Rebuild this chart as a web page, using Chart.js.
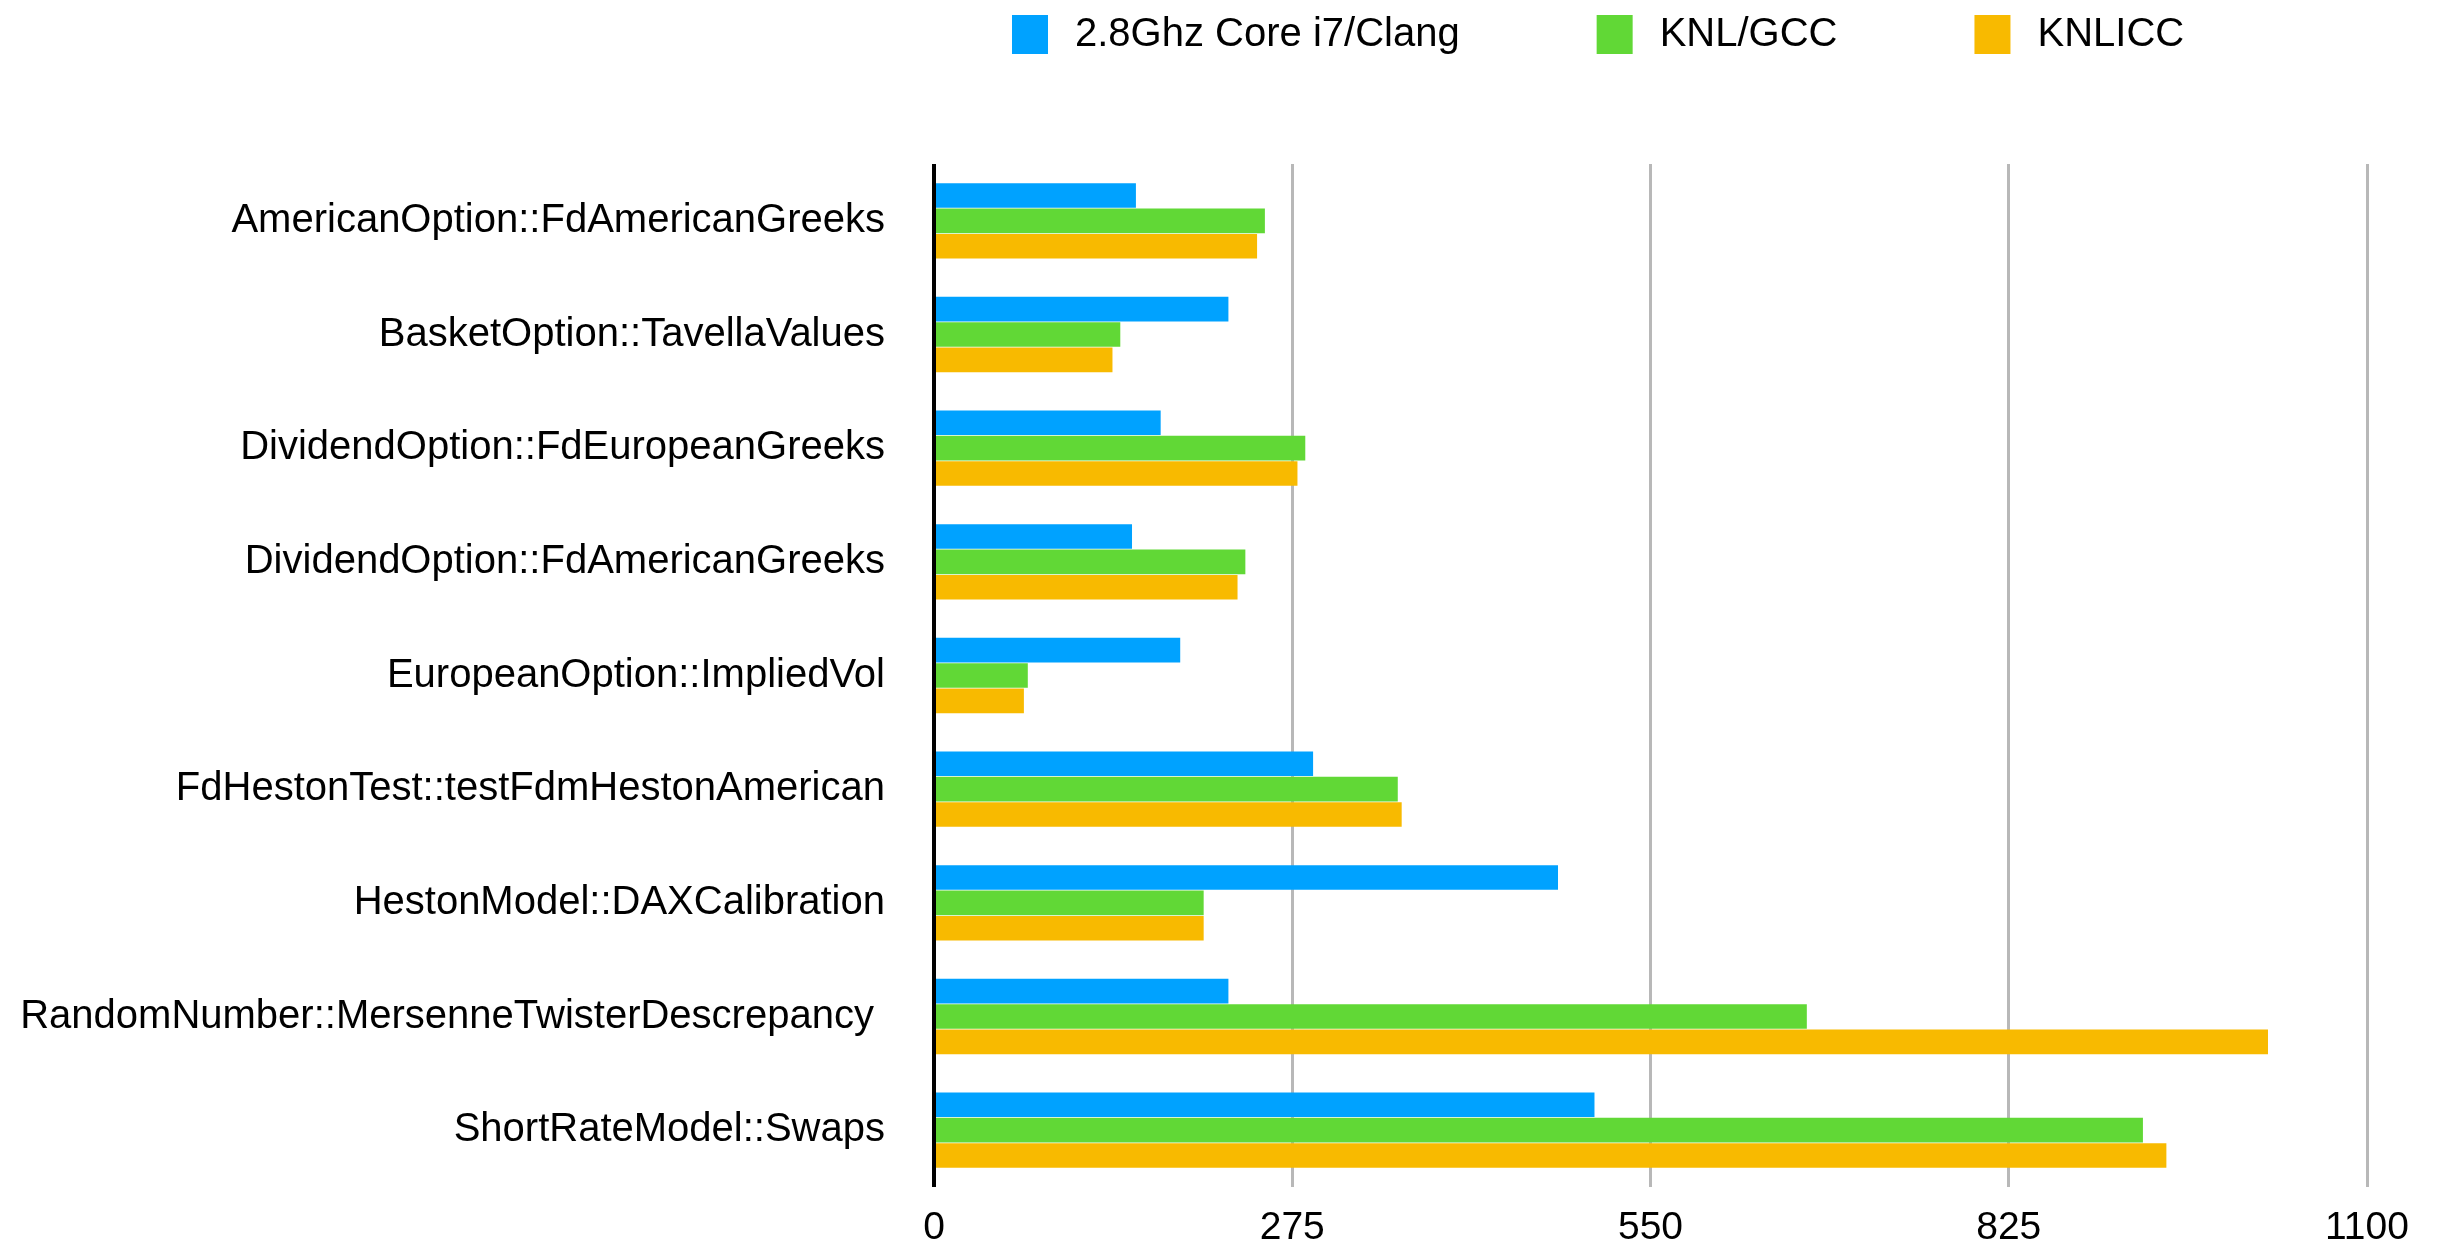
<!DOCTYPE html>
<html>
<head>
<meta charset="utf-8">
<script src="https://cdn.jsdelivr.net/npm/chart.js@4.4.1/dist/chart.umd.min.js"></script>
<style>
  html, body { margin: 0; padding: 0; background: #fff; }
  #wrap { width: 2438px; height: 1252px; }
</style>
</head>
<body>
<div id="wrap"><canvas id="bench" width="2438" height="1252"></canvas></div>
<script>
        // Benchmark names (one trailing space kept on the long one, as in the original)
        const categories = [
            'AmericanOption::FdAmericanGreeks',
            'BasketOption::TavellaValues',
            'DividendOption::FdEuropeanGreeks',
            'DividendOption::FdAmericanGreeks',
            'EuropeanOption::ImpliedVol',
            'FdHestonTest::testFdmHestonAmerican',
            'HestonModel::DAXCalibration',
            'RandomNumber::MersenneTwisterDescrepancy ',
            'ShortRateModel::Swaps'
        ];

        const seriesNames = ['2.8Ghz Core i7/Clang', 'KNL/GCC', 'KNLICC'];

        // Values
        const coreI7Clang = [155, 226, 174, 152, 189, 291, 479, 226, 507];
        const knlGcc = [254, 143, 285, 239, 72, 356, 207, 670, 928];
        const knlIcc = [248, 137, 279, 233, 69, 359, 207, 1024, 946];

        const xTicks = [0, 275, 550, 825, 1100];

        const colors = ['#00a2ff', '#61d836', '#f8ba00'];
        const FONT = '"Liberation Sans", Arial, Helvetica, sans-serif';

        // Legend row drawn on the canvas above the plot
        const legendRow = {
            id: 'legendRow',
            afterDraw(chart) {
                const ctx = chart.ctx;
                ctx.save();
                ctx.font = '40px ' + FONT;
                ctx.textBaseline = 'middle';
                ctx.textAlign = 'left';
                let x = 1012;
                chart.data.datasets.forEach(ds => {
                    ctx.fillStyle = ds.backgroundColor;
                    ctx.fillRect(x, 15, 36, 39);
                    ctx.fillStyle = '#000';
                    ctx.fillText(ds.label, x + 63, 35);
                    x += 63 + ctx.measureText(ds.label).width + 137;
                });
                ctx.restore();
            }
        };

        const ctx = document.getElementById('bench').getContext('2d');
        const chart = new Chart(ctx, {
            type: 'bar',
            data: {
                labels: categories,
                datasets: [
                    { label: seriesNames[0], data: coreI7Clang, backgroundColor: colors[0] },
                    { label: seriesNames[1], data: knlGcc, backgroundColor: colors[1] },
                    { label: seriesNames[2], data: knlIcc, backgroundColor: colors[2] }
                ]
            },
            options: {
                indexAxis: 'y',
                responsive: false,
                animation: false,
                devicePixelRatio: 1,
                layout: { padding: { top: 164, right: 71, bottom: 0, left: 0 } },
                datasets: {
                    bar: { categoryPercentage: 0.67, barPercentage: 0.97, borderWidth: 0 }
                },
                plugins: {
                    legend: { display: false },
                    tooltip: { enabled: false }
                },
                scales: {
                    x: {
                        min: 0,
                        max: 1100,
                        afterBuildTicks: scale => {
                            scale.ticks = xTicks.map(v => ({ value: v }));
                        },
                        afterFit: scale => { scale.height = 65; },
                        border: { display: false },
                        grid: {
                            drawTicks: false,
                            color: c => c.index === 0 ? '#000000' : '#b8b8b8',
                            lineWidth: c => c.index === 0 ? 4 : 3
                        },
                        ticks: {
                            padding: 18,
                            color: '#000',
                            font: { family: FONT, size: 39 },
                            callback: v => String(v)
                        }
                    },
                    y: {
                        afterFit: scale => {
                            scale.width = 934;
                            scale.paddingTop = 0;
                            scale.paddingBottom = 0;
                        },
                        border: { display: false },
                        grid: { display: false, drawTicks: false },
                        ticks: {
                            padding: 49,
                            color: '#000',
                            font: { family: FONT, size: 40 }
                        }
                    }
                }
            },
            plugins: [legendRow]
        });
</script>
</body>
</html>
